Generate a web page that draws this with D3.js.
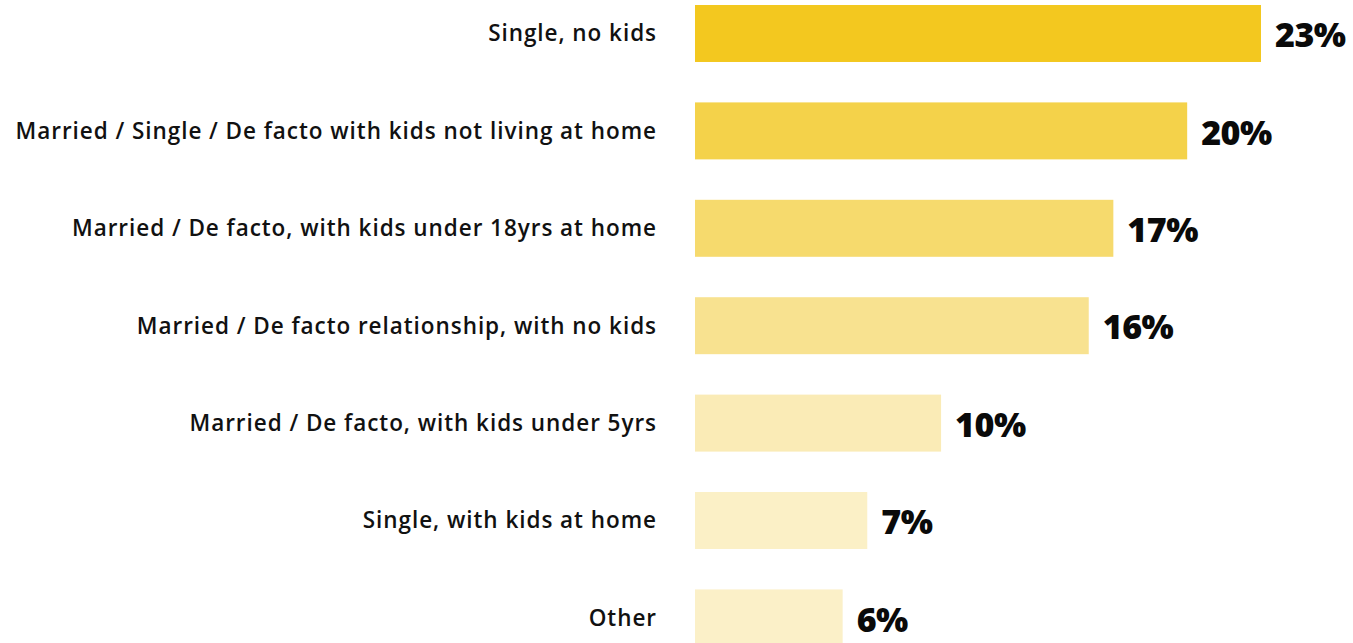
<!DOCTYPE html>
<html>
<head>
<meta charset="utf-8">
<script src="https://cdn.jsdelivr.net/npm/d3@7"></script>
<style>
  html, body { margin: 0; padding: 0; background: #fff; }
  svg { display: block; }
  .cat { font-family: "Open Sans", sans-serif; font-weight: 600; font-size: 22.5px; letter-spacing: 0.95px; fill: #111; }
  .val { font-family: "Open Sans", sans-serif; font-weight: 800; font-size: 34px; fill: #0a0a0a; letter-spacing: -0.5px; }
</style>
</head>
<body>
<svg id="chart" width="1353" height="643"></svg>
<script>
// Household situation shares (%)
const categories = [
  "Single, no kids",
  "Married / Single / De facto with kids not living at home",
  "Married / De facto, with kids under 18yrs at home",
  "Married / De facto relationship, with no kids",
  "Married / De facto, with kids under 5yrs",
  "Single, with kids at home",
  "Other"
];
const values = [23, 20, 17, 16, 10, 7, 6];
const valueLabels = ["23%", "20%", "17%", "16%", "10%", "7%", "6%"];
const barColors = ["#F3C81F", "#F4D24A", "#F6DA6D", "#F8E290", "#FAEBB6", "#FBF0C6", "#FBF0C8"];

const svg = d3.select("#chart");

const x = d3.scaleLinear().domain([0, 23]).range([695, 1261]);
const y = d3.scaleBand()
  .domain(categories)
  .range([5, 646.4])
  .paddingInner(0.415)
  .paddingOuter(0);

const rows = svg.selectAll("g.row")
  .data(categories.map((c, i) => ({ c, v: values[i], label: valueLabels[i], color: barColors[i] })))
  .join("g")
  .attr("class", "row");

rows.append("rect")
  .attr("x", x(0))
  .attr("y", d => y(d.c))
  .attr("width", d => x(d.v) - x(0))
  .attr("height", y.bandwidth())
  .attr("fill", d => d.color);

rows.append("text")
  .attr("class", "cat")
  .attr("x", 657)
  .attr("y", d => y(d.c) + y.bandwidth() / 2)
  .attr("dy", "0.35em")
  .attr("text-anchor", "end")
  .text(d => d.c);

rows.append("text")
  .attr("class", "val")
  .attr("x", d => x(d.v) + 14)
  .attr("y", d => y(d.c) + y.bandwidth() / 2 + 1.5)
  .attr("dy", "0.36em")
  .text(d => d.label);
</script>
</body>
</html>
